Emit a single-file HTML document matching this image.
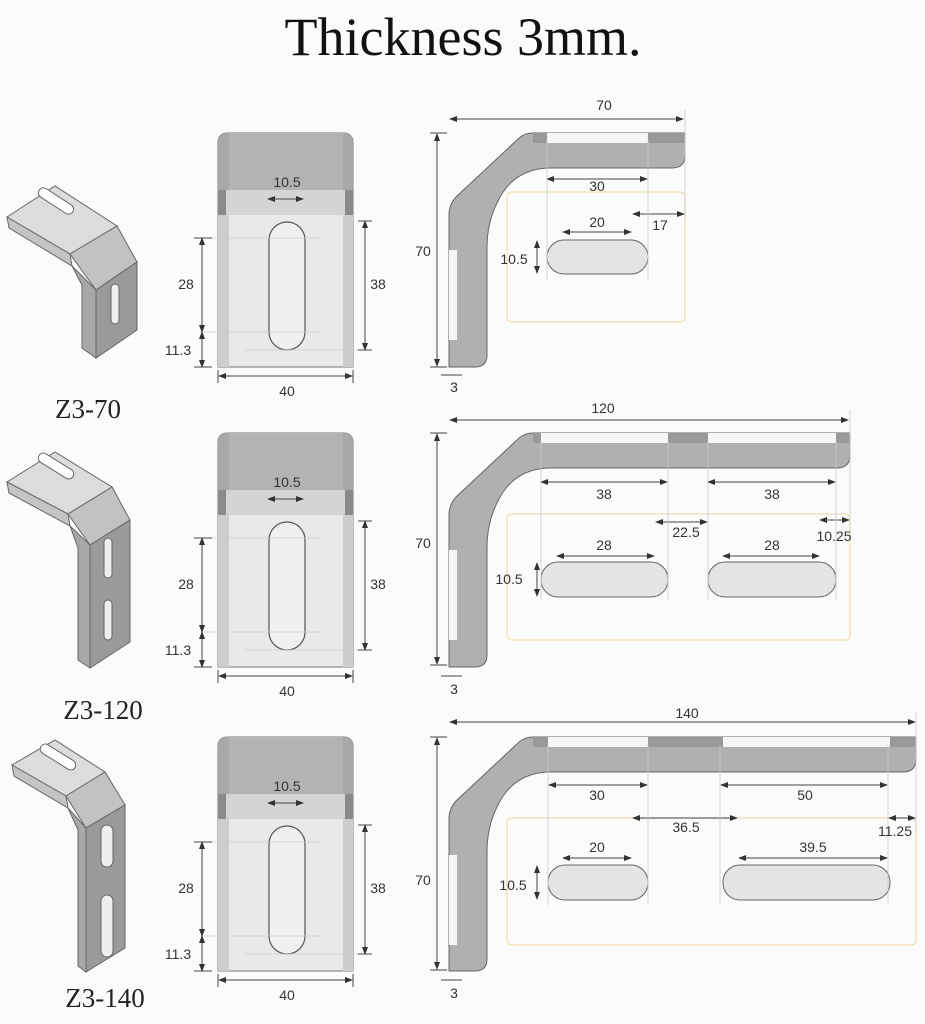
<!DOCTYPE html>
<html><head><meta charset="utf-8"><style>
html,body{margin:0;padding:0;background:#fbfbfb;}
svg{display:block;}
.d{font-family:"Liberation Sans",sans-serif;font-size:14px;fill:#333;text-anchor:middle;}
.l{stroke:#444;stroke-width:1;fill:none;}
.g{stroke:#ccc;stroke-width:0.8;fill:none;}
.o{stroke:#f0deb0;stroke-width:1.2;fill:none;}
.lab{font-family:"Liberation Serif",serif;font-size:27px;fill:#222;text-anchor:middle;}
</style></head><body>
<svg width="925" height="1024" viewBox="0 0 925 1024" xmlns="http://www.w3.org/2000/svg">
<defs>
<marker id="a" markerWidth="8" markerHeight="6" refX="7" refY="3" orient="auto-start-reverse" markerUnits="userSpaceOnUse"><path d="M0,0 L8,3 L0,6 Z" fill="#333"/></marker>
<g id="front">
 <path d="M218,367 L218,143 Q218,133 228,133 L343,133 Q353,133 353,143 L353,367 Z" fill="#e9e9e9" stroke="#777"/>
 <path d="M218,190 L218,143 Q218,133 228,133 L343,133 Q353,133 353,143 L353,190 Z" fill="#a8a8a8"/>
 <rect x="218" y="190" width="135" height="25" fill="#d4d4d4"/>
 <rect x="218" y="190" width="8" height="25" fill="#8a8a8a"/>
 <rect x="345" y="190" width="8" height="25" fill="#8a8a8a"/>
 <rect x="218" y="215" width="11" height="152" fill="#cdcdcd"/>
 <rect x="343" y="215" width="10" height="152" fill="#cdcdcd"/>
 <rect x="229" y="133" width="114" height="57" fill="#b3b3b3"/>
 <rect x="269" y="222" width="36" height="128" rx="18" fill="#f0f0f0" stroke="#555" stroke-width="1.2"/>
 <line class="g" x1="200" y1="238" x2="320" y2="238"/>
 <line class="g" x1="200" y1="332" x2="320" y2="332"/>
 <line class="g" x1="245" y1="350" x2="360" y2="350"/>
 <line class="l" x1="268" y1="199" x2="303" y2="199" marker-start="url(#a)" marker-end="url(#a)"/>
 <line class="l" x1="202" y1="238" x2="202" y2="332" marker-start="url(#a)" marker-end="url(#a)"/>
 <line class="l" x1="202" y1="332" x2="202" y2="367" marker-start="url(#a)" marker-end="url(#a)"/>
 <line class="l" x1="194" y1="238" x2="212" y2="238"/><line class="l" x1="194" y1="367" x2="212" y2="367"/>
 <line class="l" x1="365" y1="221" x2="365" y2="350" marker-start="url(#a)" marker-end="url(#a)"/>
 <line class="l" x1="358" y1="221" x2="372" y2="221"/><line class="l" x1="358" y1="350" x2="372" y2="350"/>
 <line class="l" x1="219" y1="376" x2="352" y2="376" marker-start="url(#a)" marker-end="url(#a)"/>
 <line class="l" x1="218" y1="370" x2="218" y2="383"/><line class="l" x1="353" y1="370" x2="353" y2="383"/>
</g>
</defs>

<text x="463" y="55" style="font-family:'Liberation Serif',serif;font-size:54px;fill:#111;text-anchor:middle;">Thickness 3mm.</text>

<!-- ISO icons -->
<g stroke="#666" stroke-width="1">
 <polygon points="7,217 55,186 117,226 70,254" fill="#dcdcdc"/>
 <polygon points="7,217 70,254 72,266 9,228" fill="#c4c4c4"/>
 <polygon points="70,254 117,226 137,262 96,290" fill="#c2c2c2"/>
 <polygon points="72,266 96,290 96,358 82,348 82,285" fill="#a8a8a8"/>
 <polygon points="96,290 137,262 137,330 96,358" fill="#9a9a9a"/>
 <rect x="36" y="196" width="40" height="10" rx="5" transform="rotate(33 56 201)" fill="#fff"/>
 <rect x="111" y="284" width="8" height="40" rx="4" fill="#eee"/>
</g>
<g stroke="#666" stroke-width="1">
 <polygon points="7,482 55,452 112,487 68,514" fill="#dcdcdc"/>
 <polygon points="7,482 68,514 70,526 9,493" fill="#c4c4c4"/>
 <polygon points="68,514 112,487 130,520 90,545" fill="#c2c2c2"/>
 <polygon points="70,526 90,545 90,668 78,660 78,548" fill="#a8a8a8"/>
 <polygon points="90,545 130,520 130,642 90,668" fill="#9a9a9a"/>
 <rect x="36" y="461" width="40" height="10" rx="5" transform="rotate(32 56 466)" fill="#fff"/>
 <rect x="104" y="538" width="8" height="40" rx="4" fill="#eee"/>
 <rect x="104" y="600" width="8" height="40" rx="4" fill="#eee"/>
</g>
<g stroke="#666" stroke-width="1">
 <polygon points="12,765 55,740 105,772 66,796" fill="#dcdcdc"/>
 <polygon points="12,765 66,796 68,808 14,776" fill="#c4c4c4"/>
 <polygon points="66,796 105,772 125,805 86,828" fill="#c2c2c2"/>
 <polygon points="68,808 86,828 86,972 78,966 78,830" fill="#a8a8a8"/>
 <polygon points="86,828 125,805 125,948 86,972" fill="#9a9a9a"/>
 <rect x="38" y="752" width="40" height="10" rx="5" transform="rotate(32 58 757)" fill="#fff"/>
 <rect x="101" y="825" width="12" height="42" rx="6" fill="#eee"/>
 <rect x="101" y="895" width="12" height="62" rx="6" fill="#eee"/>
</g>
<text class="lab" x="88" y="418">Z3-70</text>
<text class="lab" x="103" y="719">Z3-120</text>
<text class="lab" x="105" y="1007">Z3-140</text>

<!-- FRONT VIEWS -->
<use href="#front"/>
<use href="#front" transform="translate(0,300)"/>
<use href="#front" transform="translate(0,604)"/>
<g class="d">
<text x="287" y="187">10.5</text><text x="186" y="289">28</text><text x="178" y="355">11.3</text><text x="378" y="289">38</text><text x="287" y="396">40</text>
<text x="287" y="487">10.5</text><text x="186" y="589">28</text><text x="178" y="655">11.3</text><text x="378" y="589">38</text><text x="287" y="696">40</text>
<text x="287" y="791">10.5</text><text x="186" y="893">28</text><text x="178" y="959">11.3</text><text x="378" y="893">38</text><text x="287" y="1000">40</text>
</g>

<!-- SIDE VIEWS row1 -->
<rect class="o" x="507" y="192" width="178" height="130" rx="5"/>
<path d="M449,367 L449,215 Q449,205 456,197 L518,139 Q524,133 533,133 L685,133 L685,155 Q685,168 672,168 L547,168 Q512,170 497,203 Q487,223 487,248 L487,355 Q487,367 475,367 Z" fill="#b0b0b0" stroke="#666"/>
<rect x="533" y="133" width="152" height="10" fill="#f6f6f6"/><rect x="533" y="133" width="14" height="10" fill="#999"/><rect x="648" y="133" width="37" height="10" fill="#999"/>
<rect x="449" y="250" width="8" height="90" fill="#f6f6f6"/>
<rect x="547" y="240" width="101" height="34" rx="17" fill="#e4e4e4" stroke="#666"/>
<g class="l">
<line x1="450" y1="119" x2="683" y2="119" marker-start="url(#a)" marker-end="url(#a)"/>
<line x1="437" y1="134" x2="437" y2="366" marker-start="url(#a)" marker-end="url(#a)"/>
<line x1="430" y1="133" x2="447" y2="133"/><line x1="430" y1="367" x2="447" y2="367"/>
<line x1="547" y1="179" x2="647" y2="179" marker-start="url(#a)" marker-end="url(#a)"/>
<line x1="563" y1="232" x2="631" y2="232" marker-start="url(#a)" marker-end="url(#a)"/>
<line x1="633" y1="214" x2="684" y2="214" marker-start="url(#a)" marker-end="url(#a)"/>
<line x1="537" y1="241" x2="537" y2="273" marker-start="url(#a)" marker-end="url(#a)"/>
<line x1="441" y1="375" x2="462" y2="375"/>
</g>
<g class="g"><line x1="547" y1="140" x2="547" y2="280"/><line x1="648" y1="140" x2="648" y2="280"/><line x1="685" y1="110" x2="685" y2="220"/></g>
<g class="d"><text x="604" y="110">70</text><text x="423" y="256">70</text><text x="597" y="191">30</text><text x="597" y="227">20</text><text x="660" y="230">17</text><text x="514" y="264">10.5</text><text x="454" y="392">3</text></g>

<!-- row2 -->
<rect class="o" x="507" y="514" width="343" height="126" rx="5"/>
<path d="M449,667 L449,515 Q449,505 456,497 L518,439 Q524,433 533,433 L850,433 L850,455 Q850,468 837,468 L547,468 Q512,470 497,503 Q487,523 487,548 L487,655 Q487,667 475,667 Z" fill="#b0b0b0" stroke="#666"/>
<rect x="533" y="433" width="317" height="10" fill="#f6f6f6"/><rect x="668" y="433" width="40" height="10" fill="#999"/><rect x="836" y="433" width="14" height="10" fill="#999"/><rect x="533" y="433" width="8" height="10" fill="#999"/>
<rect x="449" y="550" width="8" height="90" fill="#f6f6f6"/>
<rect x="541" y="562" width="127" height="35" rx="17" fill="#e4e4e4" stroke="#666"/>
<rect x="708" y="562" width="128" height="35" rx="17" fill="#e4e4e4" stroke="#666"/>
<g class="l">
<line x1="450" y1="420" x2="848" y2="420" marker-start="url(#a)" marker-end="url(#a)"/>
<line x1="437" y1="434" x2="437" y2="664" marker-start="url(#a)" marker-end="url(#a)"/>
<line x1="430" y1="433" x2="447" y2="433"/><line x1="430" y1="665" x2="447" y2="665"/>
<line x1="541" y1="482" x2="667" y2="482" marker-start="url(#a)" marker-end="url(#a)"/>
<line x1="708" y1="482" x2="835" y2="482" marker-start="url(#a)" marker-end="url(#a)"/>
<line x1="656" y1="522" x2="707" y2="522" marker-start="url(#a)" marker-end="url(#a)"/>
<line x1="820" y1="520" x2="849" y2="520" marker-start="url(#a)" marker-end="url(#a)"/>
<line x1="557" y1="556" x2="654" y2="556" marker-start="url(#a)" marker-end="url(#a)"/>
<line x1="723" y1="556" x2="819" y2="556" marker-start="url(#a)" marker-end="url(#a)"/>
<line x1="537" y1="563" x2="537" y2="596" marker-start="url(#a)" marker-end="url(#a)"/>
<line x1="441" y1="676" x2="462" y2="676"/>
</g>
<g class="g"><line x1="541" y1="440" x2="541" y2="600"/><line x1="668" y1="440" x2="668" y2="600"/><line x1="708" y1="440" x2="708" y2="600"/><line x1="836" y1="440" x2="836" y2="600"/><line x1="850" y1="410" x2="850" y2="530"/></g>
<g class="d"><text x="603" y="413">120</text><text x="423" y="548">70</text><text x="604" y="499">38</text><text x="772" y="499">38</text><text x="686" y="537">22.5</text><text x="834" y="541">10.25</text><text x="604" y="550">28</text><text x="772" y="550">28</text><text x="509" y="584">10.5</text><text x="454" y="694">3</text></g>

<!-- row3 -->
<rect class="o" x="507" y="818" width="409" height="127" rx="5"/>
<path d="M449,971 L449,819 Q449,809 456,801 L518,743 Q524,737 533,737 L916,737 L916,759 Q916,772 903,772 L547,772 Q512,774 497,807 Q487,827 487,852 L487,959 Q487,971 475,971 Z" fill="#b0b0b0" stroke="#666"/>
<rect x="533" y="737" width="383" height="10" fill="#f6f6f6"/><rect x="648" y="737" width="75" height="10" fill="#999"/><rect x="890" y="737" width="26" height="10" fill="#999"/><rect x="533" y="737" width="15" height="10" fill="#999"/>
<rect x="449" y="855" width="8" height="90" fill="#f6f6f6"/>
<rect x="548" y="865" width="100" height="35" rx="17" fill="#e4e4e4" stroke="#666"/>
<rect x="723" y="865" width="167" height="35" rx="17" fill="#e4e4e4" stroke="#666"/>
<g class="l">
<line x1="450" y1="722" x2="915" y2="722" marker-start="url(#a)" marker-end="url(#a)"/>
<line x1="437" y1="738" x2="437" y2="969" marker-start="url(#a)" marker-end="url(#a)"/>
<line x1="430" y1="737" x2="447" y2="737"/><line x1="430" y1="970" x2="447" y2="970"/>
<line x1="549" y1="785" x2="647" y2="785" marker-start="url(#a)" marker-end="url(#a)"/>
<line x1="721" y1="785" x2="887" y2="785" marker-start="url(#a)" marker-end="url(#a)"/>
<line x1="633" y1="818" x2="737" y2="818" marker-start="url(#a)" marker-end="url(#a)"/>
<line x1="889" y1="818" x2="915" y2="818" marker-start="url(#a)" marker-end="url(#a)"/>
<line x1="563" y1="858" x2="631" y2="858" marker-start="url(#a)" marker-end="url(#a)"/>
<line x1="739" y1="858" x2="887" y2="858" marker-start="url(#a)" marker-end="url(#a)"/>
<line x1="537" y1="866" x2="537" y2="899" marker-start="url(#a)" marker-end="url(#a)"/>
<line x1="441" y1="980" x2="462" y2="980"/>
</g>
<g class="g"><line x1="548" y1="745" x2="548" y2="905"/><line x1="648" y1="745" x2="648" y2="905"/><line x1="720" y1="745" x2="720" y2="905"/><line x1="888" y1="745" x2="888" y2="905"/><line x1="916" y1="712" x2="916" y2="830"/></g>
<g class="d"><text x="687" y="718">140</text><text x="423" y="885">70</text><text x="597" y="800">30</text><text x="805" y="800">50</text><text x="686" y="832">36.5</text><text x="895" y="836">11.25</text><text x="597" y="852">20</text><text x="813" y="852">39.5</text><text x="513" y="890">10.5</text><text x="454" y="998">3</text></g>
</svg>
</body></html>
